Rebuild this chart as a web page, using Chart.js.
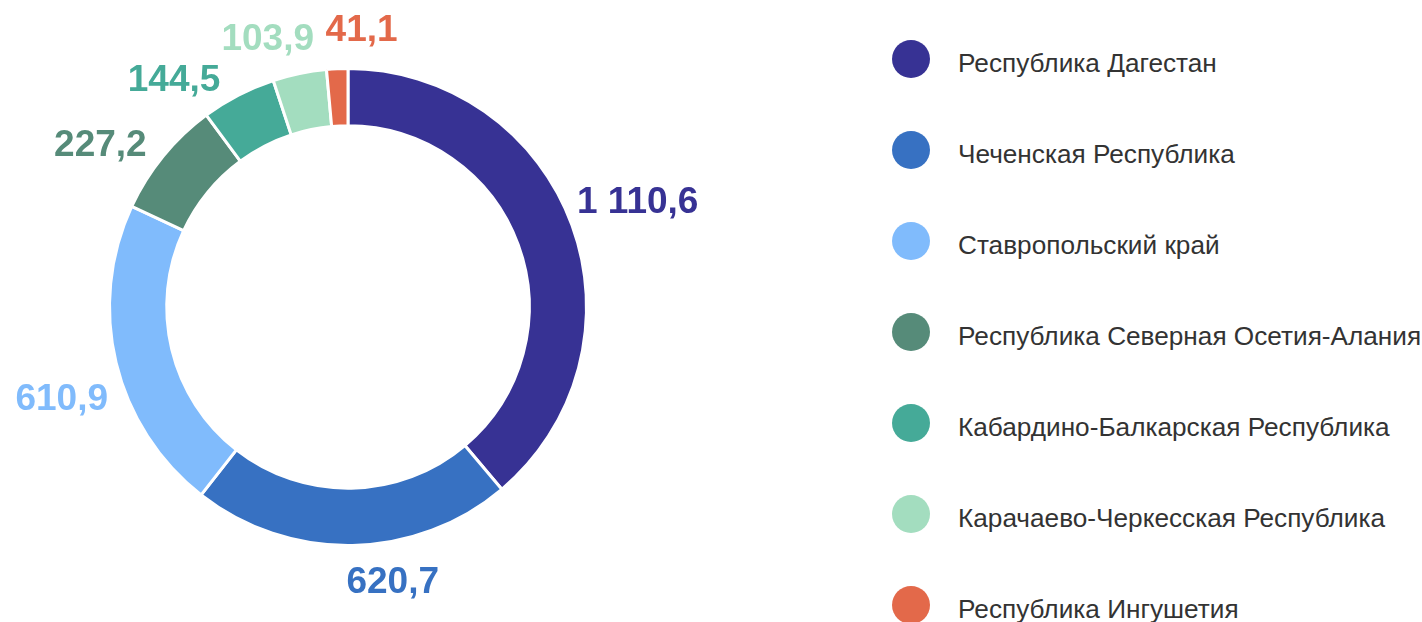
<!DOCTYPE html>
<html>
<head>
<meta charset="utf-8">
<script src="https://cdn.jsdelivr.net/npm/chart.js@4.4.0/dist/chart.umd.min.js"></script>
<style>
    body { margin: 0; background: #fff; width: 1422px; height: 622px; overflow: hidden; position: relative; }
    #chartBox { position: absolute; left: 1px; top: 0; width: 760px; height: 614px; }
    #legend { position: absolute; left: 892px; top: 40px; margin: 0; padding: 0; list-style: none; }
    #legend li { height: 91px; display: flex; align-items: flex-start; font-family: 'Liberation Sans', Arial, sans-serif; font-size: 26.2px; color: #333; white-space: nowrap; }
    #legend .dot { width: 38px; height: 38px; border-radius: 50%; flex: none; }
    #legend .txt { margin-left: 28px; line-height: 38px; padding-top: 4px; }
</style>
</head>
<body>
<div id="chartBox"><canvas id="regionChart"></canvas></div>
<ul id="legend"></ul>
<script>
const regions = [
    'Республика Дагестан',
    'Чеченская Республика',
    'Ставропольский край',
    'Республика Северная Осетия-Алания',
    'Кабардино-Балкарская Республика',
    'Карачаево-Черкесская Республика',
    'Республика Ингушетия'
];
const values = [1110.6, 620.7, 610.9, 227.2, 144.5, 103.9, 41.1];
const colors = ['#373294', '#3771c2', '#80bbfc', '#568b79', '#45aa98', '#a3ddbf', '#e3694a'];

// small hand nudges for the outside labels, [dx, dy] in px
const labelNudge = [[-12, -12], [39, -2], [12, 26], [-10, 10], [-33, 16], [-18, 0], [27, -4]];

function formatValue(v) {
    const parts = v.toFixed(1).split('.');
    const intPart = parts[0].replace(/\B(?=(\d{3})+(?!\d))/g, ' ');
    return intPart + ',' + parts[1];
}

// labels outside each slice, coloured like the slice
const outsideLabels = {
    id: 'outsideLabels',
    afterDatasetsDraw(chart) {
        const ctx = chart.ctx;
        const meta = chart.getDatasetMeta(0);
        ctx.save();
        ctx.font = 'bold 37px "Liberation Sans", Arial, sans-serif';
        ctx.textAlign = 'center';
        ctx.textBaseline = 'alphabetic';
        meta.data.forEach((arc, i) => {
            const p = arc.getProps(['x', 'y', 'startAngle', 'endAngle', 'outerRadius']);
            const mid = (p.startAngle + p.endAngle) / 2;
            const text = formatValue(values[i]);
            const w = ctx.measureText(text).width;
            const h = 30;
            const r = p.outerRadius + 22;
            const cx = p.x + Math.cos(mid) * (r + w / 2) + labelNudge[i][0];
            const cy = p.y + Math.sin(mid) * (r + h / 2) + labelNudge[i][1];
            ctx.fillStyle = colors[i];
            ctx.fillText(text, cx, cy + 13);
        });
        ctx.restore();
    }
};

const ctx = document.getElementById('regionChart').getContext('2d');
new Chart(ctx, {
    type: 'doughnut',
    data: {
        labels: regions,
        datasets: [{
            data: values,
            backgroundColor: colors,
            borderColor: '#ffffff',
            borderWidth: 3,
            hoverOffset: 0
        }]
    },
    options: {
        responsive: true,
        maintainAspectRatio: false,
        animation: false,
        radius: 238.5,
        cutout: '76%',
        layout: { padding: { right: 66 } },
        plugins: {
            legend: { display: false },
            tooltip: { enabled: false }
        }
    },
    plugins: [outsideLabels]
});

// legend built from the same arrays
const legend = document.getElementById('legend');
regions.forEach((name, i) => {
    const li = document.createElement('li');
    li.innerHTML = `<span class="dot" style="background:${colors[i]}"></span><span class="txt">${name}</span>`;
    legend.appendChild(li);
});
</script>
</body>
</html>
